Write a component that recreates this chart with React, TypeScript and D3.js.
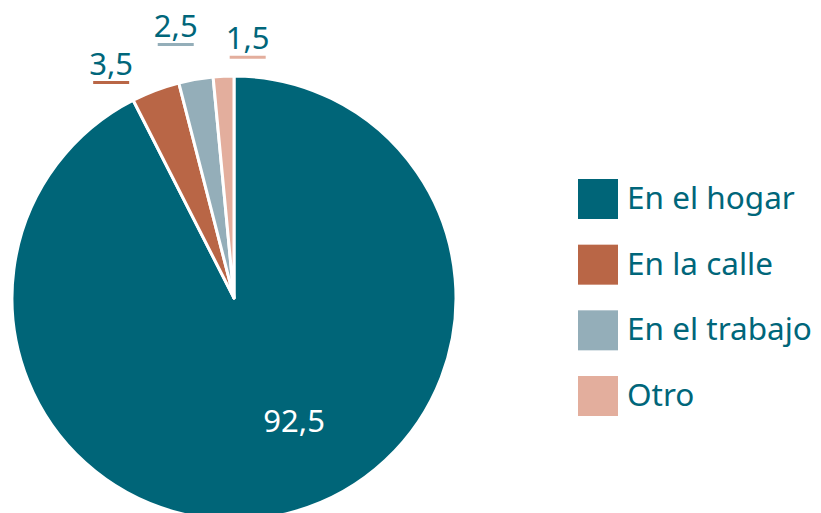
import React from "react";
import * as d3 from "d3";

const categories = ["En el hogar", "En la calle", "En el trabajo", "Otro"];
const values = [92.5, 3.5, 2.5, 1.5];
const valueLabels = ["92,5", "3,5", "2,5", "1,5"];
const colors = ["#006578", "#b96646", "#94aeb9", "#e3ae9d"];

// label placement (layout only): offset from the slice's reference point
const labelNudge = [
  { dx: 28, dy: 0, inside: true },
  { dx: -38, dy: 1, inside: false },
  { dx: -17, dy: -25, inside: false },
  { dx: 25, dy: -9, inside: false },
];

const W = 821;
const H = 513;
const cx = 234;
const cy = 298;
const R = 222;
const textColor = "#00667a";
const font = "'Noto Sans', 'Open Sans', sans-serif";

export default function App() {
  const pie = d3.pie<number>().sort(null).value((d) => d);
  const arcs = pie(values);
  const arc = d3.arc<d3.PieArcDatum<number>>().innerRadius(0).outerRadius(R);
  const legendY = d3.scaleLinear().domain([0, 3]).range([179, 376]);

  return (
    <svg width={W} height={H} style={{ position: "absolute", left: 0, top: 0 }}>
      <g transform={`translate(${cx},${cy})`}>
        {arcs.map((a, i) => (
          <path key={i} d={arc(a) || ""} fill={colors[i]} stroke="#fff" strokeWidth={3} strokeLinejoin="round" />
        ))}
        {arcs.map((a, i) => {
          const n = labelNudge[i];
          const mid = (a.startAngle + a.endAngle) / 2;
          if (n.inside) {
            const rr = R * 0.62;
            const px = Math.sin(mid) * rr + n.dx;
            const py = -Math.cos(mid) * rr + n.dy;
            return (
              <text key={i} x={px} y={py} fill="#fff" fontFamily={font} fontSize={31} textAnchor="middle">
                {valueLabels[i]}
              </text>
            );
          }
          const rr = R + 18;
          const px = Math.sin(mid) * rr + n.dx;
          const py = -Math.cos(mid) * rr + n.dy;
          return (
            <g key={i}>
              <text x={px} y={py} fill={textColor} fontFamily={font} fontSize={31} textAnchor="middle">
                {valueLabels[i]}
              </text>
              <line x1={px - 18} x2={px + 18} y1={py + 8} y2={py + 8} stroke={colors[i]} strokeWidth={3} />
            </g>
          );
        })}
      </g>
      {categories.map((c, i) => (
        <g key={c} transform={`translate(578,${legendY(i)})`}>
          <rect width={40} height={40} fill={colors[i]} />
          <text x={49} y={30} fill={textColor} fontFamily={font} fontSize={31.5}>
            {c}
          </text>
        </g>
      ))}
    </svg>
  );
}
